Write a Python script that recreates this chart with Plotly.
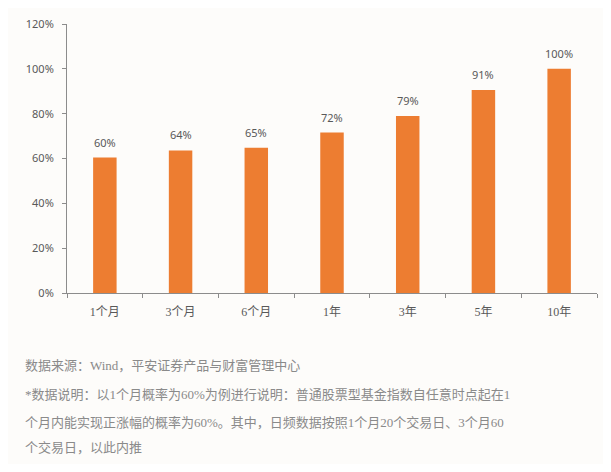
import plotly.graph_objects as go

# data
periods = ["1个月", "3个月", "6个月", "1年", "3年", "5年", "10年"]
prob_up = [60.4, 63.6, 64.8, 71.6, 79.0, 90.6, 100.0]
y_ticks = [0, 20, 40, 60, 80, 100, 120]

footer_lines = [
    "数据来源：Wind，平安证券产品与财富管理中心",
    "*数据说明：以1个月概率为60%为例进行说明：普通股票型基金指数自任意时点起在1",
    "个月内能实现正涨幅的概率为60%。其中，日频数据按照1个月20个交易日、3个月60",
    "个交易日，以此内推",
]

bg = "#FDFCFA"
orange = "#ED7D31"
axis_col = "#8C8C8C"
txt_col = "#595959"
cjk = "Liberation Serif, Noto Sans CJK SC"

fig = go.Figure(
    data=[
        go.Bar(
            x=periods,
            y=prob_up,
            marker=dict(color=orange, line=dict(width=0)),
            width=0.31,
            hoverinfo="skip",
        )
    ]
)

# value labels above bars
for p, v in zip(periods, prob_up):
    fig.add_annotation(
        x=p, y=v, text=f"{round(v)}%",
        showarrow=False, yanchor="bottom", yshift=6,
        font=dict(family="Noto Sans", size=11, color=txt_col),
    )

# footer notes, one annotation per line for the wider line spacing
footer_y = [-0.268, -0.379, -0.480, -0.576]
for line, fy in zip(footer_lines, footer_y):
    fig.add_annotation(
        x=-0.083, y=fy, xref="paper", yref="paper",
        xanchor="left", yanchor="middle",
        text=line, showarrow=False,
        font=dict(family=cjk, size=13, color="#8A8A8A"),
    )

# page body has an 8px margin, so the figure is sized to fit inside it
fig.update_layout(
    width=595,
    height=456,
    margin=dict(l=59, r=6, t=16, b=171),
    paper_bgcolor=bg,
    plot_bgcolor=bg,
    showlegend=False,
    xaxis=dict(
        showline=True, linecolor=axis_col, linewidth=1,
        ticks="outside", tickson="boundaries", ticklen=4, tickcolor=axis_col,
        ticklabelstandoff=8,
        tickfont=dict(family=cjk, size=12, color=txt_col),
        showgrid=False, zeroline=False,
    ),
    yaxis=dict(
        range=[0, 120],
        tickvals=y_ticks,
        ticktext=[f"{t}%" for t in y_ticks],
        showline=True, linecolor=axis_col, linewidth=1,
        ticks="outside", ticklen=4, tickcolor=axis_col,
        ticklabelstandoff=6,
        tickfont=dict(family="Noto Sans", size=11, color=txt_col),
        showgrid=False, zeroline=False,
    ),
)

fig.write_html("out.html")
